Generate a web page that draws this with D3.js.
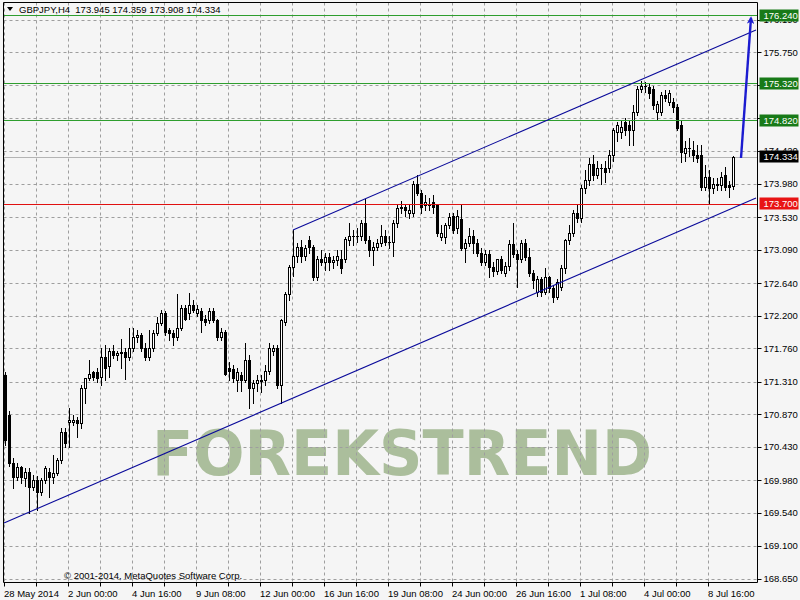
<!DOCTYPE html>
<html><head><meta charset="utf-8">
<script src="https://cdn.jsdelivr.net/npm/d3@7"></script>
<style>
html,body{margin:0;padding:0;background:#f5f5f5;}
svg{display:block;}
text{font-family:"Liberation Sans",Arial,sans-serif;}
</style></head>
<body>
<svg id="c" width="800" height="600"></svg>
<script>
// ---------- DATA ----------
const symbolTitle = "GBPJPY,H4  173.945 174.359 173.908 174.334";
const openV = [171.40,170.86,170.22,170.02,170.16,170.01,170.09,169.89,169.98,169.82,169.98,170.09,170.02,170.08,170.25,170.63,170.76,170.76,170.80,170.75,
171.22,171.36,171.44,171.44,171.37,171.64,171.52,171.73,171.67,171.69,171.71,171.64,171.77,171.91,171.94,171.77,171.64,171.77,171.96,172.10,
172.23,172.00,171.96,171.91,172.04,172.30,172.23,172.34,172.23,172.26,172.15,172.14,172.26,172.14,171.91,171.98,171.50,171.48,171.33,171.40,
171.33,171.60,171.22,171.29,171.33,171.33,171.46,171.73,171.76,171.26,172.11,172.49,172.85,173.01,173.12,173.01,173.22,173.12,172.72,172.97,
172.92,172.99,172.92,172.95,172.97,172.96,173.22,173.28,173.27,173.27,173.45,173.22,173.08,173.12,173.18,173.28,173.19,173.19,173.45,173.65,
173.66,173.58,173.59,173.98,173.86,173.69,173.71,173.73,173.69,173.26,173.26,173.42,173.54,173.38,173.50,173.11,173.18,173.28,173.18,173.04,
172.92,173.03,172.85,172.80,172.97,172.77,172.87,173.16,173.03,172.96,173.18,172.99,172.77,172.52,172.69,172.52,172.72,172.57,172.45,172.58,
172.84,173.22,173.31,173.58,173.51,173.92,174.03,174.25,174.09,174.19,174.19,174.19,174.36,174.67,174.67,174.81,174.77,174.70,174.94,175.25,
175.29,175.28,175.25,174.94,174.94,175.18,175.08,175.08,175.01,174.77,174.39,174.46,174.44,174.36,174.36,173.93,174.07,173.92,173.98,173.96,
174.09,173.96,173.945];
const highV = [171.44,170.92,170.28,170.21,170.18,170.14,170.14,170.05,170.04,170.01,170.17,170.14,170.32,170.28,170.68,170.68,170.95,170.86,170.83,171.26,
171.36,171.60,171.46,171.49,171.77,171.80,171.77,171.80,171.73,171.88,171.76,172.04,172.04,172.00,171.96,171.83,172.00,172.00,172.18,172.27,
172.26,172.04,172.00,172.49,172.34,172.34,172.50,172.41,172.34,172.30,172.21,172.30,172.30,172.16,172.03,172.00,171.57,171.53,171.49,171.44,
171.83,171.67,171.33,171.40,171.40,171.53,171.83,171.80,171.80,172.16,172.52,172.88,173.35,173.18,173.22,173.15,173.28,173.15,173.01,173.08,
173.05,173.05,173.01,173.08,173.08,173.26,173.45,173.35,173.38,173.49,173.77,173.27,173.19,173.24,173.42,173.35,173.27,173.49,173.69,173.75,
173.71,173.69,174.02,174.09,173.89,173.82,173.78,173.82,173.71,173.42,173.45,173.59,173.59,173.62,173.69,173.24,173.38,173.35,173.24,173.11,
173.08,173.08,172.92,172.97,173.01,172.92,173.22,173.45,173.08,173.22,173.24,173.11,172.81,172.74,172.72,172.84,172.74,172.61,172.70,172.88,
173.24,173.42,173.62,173.69,173.96,174.16,174.32,174.36,174.29,174.25,174.29,174.43,174.73,174.81,174.83,174.86,174.83,175.04,175.30,175.36,
175.35,175.32,175.29,175.10,175.21,175.24,175.24,175.13,175.06,174.83,174.56,174.59,174.56,174.50,174.50,174.23,174.16,174.05,174.05,174.13,
174.20,174.02,174.359];
const lowV = [170.45,170.18,169.87,169.98,169.94,169.91,169.54,169.85,169.58,169.78,169.95,169.75,169.95,170.05,170.22,170.43,170.43,170.72,170.56,170.68,
171.02,171.33,171.33,171.30,171.26,171.33,171.37,171.63,171.60,171.49,171.34,171.60,171.73,171.84,171.73,171.60,171.60,171.73,171.94,172.07,
171.94,171.87,171.80,171.87,172.00,172.14,172.16,172.25,172.19,171.98,172.07,172.10,172.11,171.87,171.87,171.40,171.33,171.30,171.19,171.19,
171.30,170.95,171.02,171.19,171.17,171.26,171.42,171.67,171.22,171.02,172.07,172.41,172.74,172.92,172.92,172.95,173.05,172.68,172.68,172.88,
172.81,172.81,172.84,172.88,172.78,172.92,173.15,173.15,173.19,173.22,173.18,173.01,172.88,173.08,173.14,173.15,173.11,173.01,173.40,173.59,
173.55,173.51,173.55,173.82,173.59,173.62,173.62,173.59,173.28,173.22,173.18,173.38,173.31,173.32,173.08,172.92,173.14,173.04,173.00,172.88,
172.88,172.72,172.74,172.76,172.77,172.73,172.81,172.99,172.58,172.92,172.95,172.73,172.57,172.47,172.47,172.49,172.52,172.38,172.43,172.54,
172.78,173.16,173.27,173.46,173.46,173.86,173.96,174.03,174.05,173.98,174.00,174.13,174.29,174.56,174.59,174.63,174.50,174.50,174.90,175.21,
175.21,175.14,174.99,174.85,174.90,175.10,175.04,174.94,174.70,174.27,174.29,174.35,174.29,174.27,173.89,173.89,173.71,173.86,173.89,173.89,
173.89,173.80,173.908];
const closeV = [170.52,170.22,170.02,170.16,170.02,170.09,169.89,169.98,169.82,169.98,170.14,170.02,170.08,170.25,170.63,170.48,170.79,170.80,170.75,171.22,
171.36,171.42,171.37,171.36,171.64,171.50,171.73,171.67,171.69,171.71,171.64,171.77,171.91,171.94,171.77,171.64,171.77,171.96,172.10,172.23,
171.98,171.96,171.91,172.04,172.30,172.16,172.34,172.27,172.29,172.14,172.12,172.26,172.14,171.91,171.98,171.42,171.45,171.36,171.44,171.33,
171.60,171.22,171.29,171.33,171.32,171.46,171.76,171.76,171.26,172.14,172.49,172.85,173.01,173.12,173.01,173.11,173.12,172.72,172.97,172.92,
172.99,172.92,172.95,173.01,172.84,173.23,173.28,173.27,173.27,173.45,173.22,173.08,173.12,173.18,173.28,173.19,173.19,173.45,173.65,173.66,
173.62,173.62,173.98,173.86,173.66,173.73,173.69,173.66,173.32,173.31,173.42,173.53,173.35,173.55,173.11,173.18,173.28,173.18,173.04,172.92,
173.03,172.85,172.80,172.97,172.81,172.87,173.16,173.03,172.96,173.18,172.99,172.77,172.68,172.69,172.52,172.72,172.57,172.45,172.65,172.84,
173.22,173.31,173.58,173.51,173.92,174.03,174.25,174.09,174.19,174.19,174.13,174.36,174.70,174.77,174.74,174.70,174.70,174.94,175.25,175.29,
175.29,175.20,175.04,175.06,175.18,175.14,175.20,175.01,174.73,174.40,174.46,174.46,174.36,174.33,173.93,174.07,173.92,173.98,173.96,174.07,
173.93,173.93,174.334];

const priceTicks = [176.190,175.750,175.310,174.870,174.420,173.980,173.530,173.090,172.640,172.200,171.760,171.310,170.870,170.430,169.980,169.540,169.100,168.650];
const timeLabels = ["28 May 2014","2 Jun 00:00","4 Jun 16:00","9 Jun 08:00","12 Jun 00:00","16 Jun 16:00","19 Jun 08:00","24 Jun 00:00","26 Jun 16:00","1 Jul 08:00","4 Jul 00:00","8 Jul 16:00"];
const timeLabelBars = [0,16,32,48,64,80,96,112,128,144,160,176];
const gridBars = d3.range(0, 184, 8);

const greenLevels = [176.240,175.320,174.820];
const redLevel = 173.700;
const bidLevel = 174.334;
const lowerChannel = [[-0.25,169.405],[187.75,173.786]];
const upperChannel = [[72,173.355],[187.75,176.051]];
const arrowPts = [[184,174.325],[186.5,176.215]];

// ---------- LAYOUT ----------
const svg = d3.select("#c");
const L = 3.5, R = 757.5, T = 2.5, B = 582.5;
const x = d3.scaleLinear().domain([0,182]).range([5,733]);
const y = d3.scaleLinear().domain([168.596,176.415]).range([583,3]);

svg.append("rect").attr("width",800).attr("height",600).attr("fill","#f5f5f5");

const defs = svg.append("defs");
defs.append("clipPath").attr("id","plot").append("rect")
  .attr("x",L).attr("y",T).attr("width",R-L).attr("height",B-T);
defs.append("marker").attr("id","ah").attr("viewBox","0 0 10 10").attr("refX",8).attr("refY",5)
  .attr("markerWidth",3.2).attr("markerHeight",3.2).attr("orient","auto")
  .append("path").attr("d","M0,0 L10,5 L0,10 L3,5 Z").attr("fill","#1c1cd0");

const g = svg.append("g").attr("clip-path","url(#plot)");

// watermark
g.append("text").attr("x",402).attr("y",475).attr("text-anchor","middle")
  .attr("textLength",500).attr("lengthAdjust","spacingAndGlyphs")
  .style("font-family","'DejaVu Sans',Verdana,sans-serif").style("font-weight","bold")
  .style("font-size","63px").attr("fill","#abbe9c").text("FOREKSTREND");

// grid
g.selectAll(".hg").data(priceTicks).enter().append("line")
  .attr("x1",L).attr("x2",R).attr("y1",d=>Math.round(y(d))+0.5).attr("y2",d=>Math.round(y(d))+0.5)
  .attr("stroke","#9e9e9e").attr("stroke-dasharray","3,3");
g.selectAll(".vg").data(gridBars).enter().append("line")
  .attr("x1",d=>Math.round(x(d))-0.5).attr("x2",d=>Math.round(x(d))-0.5).attr("y1",T).attr("y2",B)
  .attr("stroke","#9e9e9e").attr("stroke-dasharray","3,3");

// bid line
g.append("line").attr("x1",L).attr("x2",R).attr("y1",Math.round(y(bidLevel))+0.5).attr("y2",Math.round(y(bidLevel))+0.5)
  .attr("stroke","#b4b4b4");

// candles
const idx = d3.range(closeV.length);
const cg = g.append("g");
idx.forEach(i=>{
  const cx = Math.round(x(i));
  cg.append("line").attr("x1",cx+0.5).attr("x2",cx+0.5)
    .attr("y1",Math.round(y(highV[i]))).attr("y2",Math.round(y(lowV[i]))+1)
    .attr("stroke","#000");
  const top = Math.round(y(Math.max(openV[i],closeV[i])));
  const bot = Math.round(y(Math.min(openV[i],closeV[i])));
  const bull = closeV[i] >= openV[i];
  if (bot - top < 1) {
    cg.append("line").attr("x1",cx-1).attr("x2",cx+2).attr("y1",top+0.5).attr("y2",top+0.5).attr("stroke","#000");
  } else {
    cg.append("rect").attr("x",cx-0.5).attr("y",top+0.5).attr("width",2).attr("height",bot-top)
      .attr("fill",bull?"#ffffff":"#000000").attr("stroke","#000");
  }
});

// levels
g.selectAll(".gl").data(greenLevels).enter().append("line")
  .attr("x1",L).attr("x2",R).attr("y1",d=>Math.round(y(d))-0.5).attr("y2",d=>Math.round(y(d))-0.5)
  .attr("stroke","#2e9e2e");
g.append("line").attr("x1",L).attr("x2",R).attr("y1",Math.round(y(redLevel))+0.5).attr("y2",Math.round(y(redLevel))+0.5)
  .attr("stroke","#e01010");

// channel
const ln = d3.line().x(d=>x(d[0])).y(d=>y(d[1]));
g.append("path").attr("d",ln(lowerChannel)).attr("fill","none").attr("stroke","#0a0a9a").attr("stroke-width",1.1);
g.append("path").attr("d",ln(upperChannel)).attr("fill","none").attr("stroke","#0a0a9a").attr("stroke-width",1.1);
// arrow
g.append("path").attr("d",ln(arrowPts)).attr("fill","none").attr("stroke","#1c1cd0").attr("stroke-width",2.4)
  .attr("marker-end","url(#ah)");

// frame
svg.append("line").attr("x1",L).attr("x2",L).attr("y1",T).attr("y2",B).attr("stroke","#000");
svg.append("line").attr("x1",R).attr("x2",R).attr("y1",T).attr("y2",B).attr("stroke","#000");
svg.append("line").attr("x1",L).attr("x2",R).attr("y1",T).attr("y2",T).attr("stroke","#000");
svg.append("line").attr("x1",L).attr("x2",R).attr("y1",B).attr("y2",B).attr("stroke","#000");

// right axis
svg.selectAll(".yt").data(priceTicks).enter().append("line")
  .attr("x1",R).attr("x2",R+4).attr("y1",d=>Math.round(y(d))+0.5).attr("y2",d=>Math.round(y(d))+0.5).attr("stroke","#000");
svg.selectAll(".yl").data(priceTicks).enter().append("text")
  .attr("x",R+6).attr("y",d=>y(d)+3.5).style("font-size","9.5px").attr("fill","#000")
  .text(d=>d.toFixed(3));

// level labels
function levelLabel(v, col){
  const yy = Math.round(y(v)) - 1;
  svg.append("rect").attr("x",R+2).attr("y",yy-5.5).attr("width",39).attr("height",12).attr("fill",col);
  svg.append("text").attr("x",R+6).attr("y",yy+4).style("font-size","9.5px").attr("fill","#fff").text(v.toFixed(3));
}
greenLevels.forEach(v=>levelLabel(v,"#187a18"));
levelLabel(bidLevel,"#000000");
levelLabel(redLevel,"#e81414");

// bottom axis
svg.selectAll(".xt").data(gridBars).enter().append("line")
  .attr("x1",d=>Math.round(x(d))-0.5).attr("x2",d=>Math.round(x(d))-0.5).attr("y1",B).attr("y2",B+4).attr("stroke","#000");
svg.selectAll(".xl").data(timeLabels).enter().append("text")
  .attr("x",(d,i)=>Math.round(x(timeLabelBars[i]))-1).attr("y",597).style("font-size","9.5px").attr("fill","#000")
  .text(d=>d);

// title
svg.append("path").attr("d","M7,7 L13,7 L10,11 Z").attr("fill","#000");
svg.append("text").attr("x",19).attr("y",13).style("font-size","9.5px").style("white-space","pre")
  .attr("fill","#000").text(symbolTitle);

// copyright
svg.append("text").attr("x",64).attr("y",579).style("font-size","9.5px").attr("fill","#000")
  .text("© 2001-2014, MetaQuotes Software Corp.");
</script>
</body></html>
